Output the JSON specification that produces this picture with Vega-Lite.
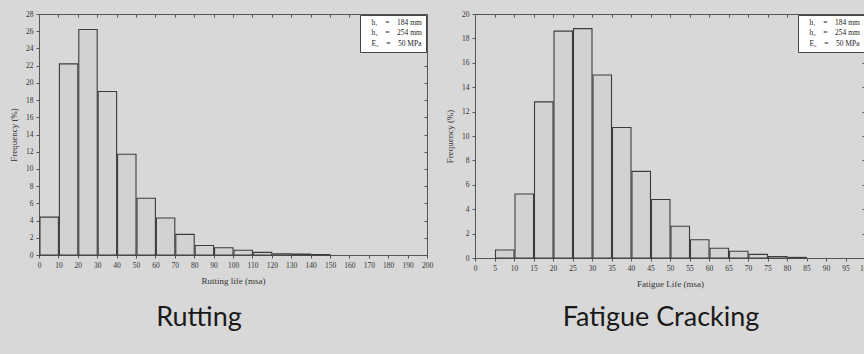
{
  "$schema": "https://vega.github.io/schema/vega-lite/v6.json",
  "background": "#d8d8d8",
  "padding": {"left": 9, "top": 9, "right": 0, "bottom": 27},
  "datasets": {
    "rutting": [
      {"start": 0, "end": 10, "freq": 4.4},
      {"start": 10, "end": 20, "freq": 22.2},
      {"start": 20, "end": 30, "freq": 26.2},
      {"start": 30, "end": 40, "freq": 19.0},
      {"start": 40, "end": 50, "freq": 11.7},
      {"start": 50, "end": 60, "freq": 6.6},
      {"start": 60, "end": 70, "freq": 4.3},
      {"start": 70, "end": 80, "freq": 2.4},
      {"start": 80, "end": 90, "freq": 1.1},
      {"start": 90, "end": 100, "freq": 0.85},
      {"start": 100, "end": 110, "freq": 0.55},
      {"start": 110, "end": 120, "freq": 0.3},
      {"start": 120, "end": 130, "freq": 0.15},
      {"start": 130, "end": 140, "freq": 0.1},
      {"start": 140, "end": 150, "freq": 0.05}
    ],
    "fatigue": [
      {"start": 5, "end": 10, "freq": 0.65},
      {"start": 10, "end": 15, "freq": 5.25},
      {"start": 15, "end": 20, "freq": 12.8},
      {"start": 20, "end": 25, "freq": 18.6},
      {"start": 25, "end": 30, "freq": 18.8},
      {"start": 30, "end": 35, "freq": 15.0},
      {"start": 35, "end": 40, "freq": 10.7},
      {"start": 40, "end": 45, "freq": 7.1},
      {"start": 45, "end": 50, "freq": 4.8},
      {"start": 50, "end": 55, "freq": 2.6},
      {"start": 55, "end": 60, "freq": 1.5},
      {"start": 60, "end": 65, "freq": 0.8},
      {"start": 65, "end": 70, "freq": 0.55},
      {"start": 70, "end": 75, "freq": 0.3},
      {"start": 75, "end": 80, "freq": 0.12},
      {"start": 80, "end": 85, "freq": 0.05}
    ],
    "params": [
      {"param": "h\u2081\u2003=\u2003184 mm"},
      {"param": "h\u2082\u2003=\u2003254 mm"},
      {"param": "E\u2083\u2003=\u200350 MPa"}
    ]
  },
  "hconcat": [
    {
      "width": 388,
      "height": 241,
      "title": {"text": "Rutting", "orient": "bottom", "dx": -34, "offset": 19, "font": "Lato", "fontSize": 27, "fontWeight": "normal", "color": "#1a1a1a"},
      "resolve": {"axis": {"x": "independent", "y": "independent"}},
      "layer": [
        {
          "data": {"name": "rutting"},
          "mark": {"type": "bar", "fill": "#d2d2d2", "stroke": "#3c3c3c", "strokeWidth": 1.1},
          "encoding": {
            "x": {"field": "start", "type": "quantitative", "bin": {"binned": true, "step": 10}, "scale": {"domain": [0, 200], "nice": false},
                  "axis": {"values": [0,10,20,30,40,50,60,70,80,90,100,110,120,130,140,150,160,170,180,190,200], "title": "Rutting life (msa)"}},
            "x2": {"field": "end"},
            "y": {"field": "freq", "type": "quantitative", "scale": {"domain": [0, 28], "nice": false},
                  "axis": {"values": [0,2,4,6,8,10,12,14,16,18,20,22,24,26,28], "title": "Frequency (%)"}}
          }
        },
        {
          "data": {"name": "rutting"},
          "mark": {"type": "bar", "opacity": 0},
          "encoding": {
            "x": {"field": "start", "type": "quantitative", "bin": {"binned": true, "step": 10}, "axis": {"orient": "top", "values": [0,10,20,30,40,50,60,70,80,90,100,110,120,130,140,150,160,170,180,190,200], "labels": false, "title": null, "tickSize": -3}},
            "x2": {"field": "end"},
            "y": {"field": "freq", "type": "quantitative", "axis": {"orient": "right", "values": [0,2,4,6,8,10,12,14,16,18,20,22,24,26,28], "labels": false, "title": null, "tickSize": -3}}
          }
        },
        {
          "data": {"name": "params"},
          "mark": {"type": "point", "opacity": 0},
          "encoding": {
            "color": {"field": "param", "type": "nominal", "sort": null, "scale": {"range": ["#000000", "#000000", "#000000"]},
                      "legend": {"title": null}}
          }
        }
      ]
    },
    {
      "width": 390,
      "height": 244,
      "title": {"text": "Fatigue Cracking", "orient": "bottom", "dx": -9, "offset": 16, "font": "Lato", "fontSize": 27, "fontWeight": "normal", "color": "#1a1a1a"},
      "resolve": {"axis": {"x": "independent", "y": "independent"}},
      "layer": [
        {
          "data": {"name": "fatigue"},
          "mark": {"type": "bar", "fill": "#d2d2d2", "stroke": "#3c3c3c", "strokeWidth": 1.1},
          "encoding": {
            "x": {"field": "start", "type": "quantitative", "bin": {"binned": true, "step": 5}, "scale": {"domain": [0, 100], "nice": false},
                  "axis": {"values": [0,5,10,15,20,25,30,35,40,45,50,55,60,65,70,75,80,85,90,95,100], "title": "Fatigue Life (msa)"}},
            "x2": {"field": "end"},
            "y": {"field": "freq", "type": "quantitative", "scale": {"domain": [0, 20], "nice": false},
                  "axis": {"values": [0,2,4,6,8,10,12,14,16,18,20], "title": "Frequency (%)"}}
          }
        },
        {
          "data": {"name": "fatigue"},
          "mark": {"type": "bar", "opacity": 0},
          "encoding": {
            "x": {"field": "start", "type": "quantitative", "bin": {"binned": true, "step": 5}, "axis": {"orient": "top", "values": [0,5,10,15,20,25,30,35,40,45,50,55,60,65,70,75,80,85,90,95,100], "labels": false, "title": null, "tickSize": -3}},
            "x2": {"field": "end"},
            "y": {"field": "freq", "type": "quantitative", "axis": {"orient": "right", "values": [0,2,4,6,8,10,12,14,16,18,20], "labels": false, "title": null, "tickSize": -3}}
          }
        },
        {
          "data": {"name": "params"},
          "mark": {"type": "point", "opacity": 0},
          "encoding": {
            "color": {"field": "param", "type": "nominal", "sort": null, "scale": {"range": ["#000000", "#000000", "#000000"]},
                      "legend": {"title": null}}
          }
        }
      ]
    }
  ],
  "spacing": 48,
  "bounds": "flush",
  "resolve": {"scale": {"color": "independent"}, "legend": {"color": "independent"}},
  "config": {
    "view": {
      "stroke": "#555555",
      "strokeWidth": 1,
      "fill": {"gradient": "linear", "x1": 0, "y1": 0, "x2": 0, "y2": 1,
               "stops": [{"offset": 0, "color": "#ffffff"}, {"offset": 0.55, "color": "#fcfcfc"}, {"offset": 1, "color": "#e9e9e9"}]}
    },
    "axis": {
      "labelFont": "Liberation Serif", "labelFontSize": 7.5, "labelColor": "#333333",
      "titleFont": "Liberation Serif", "titleFontSize": 9, "titleFontWeight": "normal", "titleColor": "#333333",
      "grid": false, "domain": false, "tickColor": "#555555", "tickSize": 3, "labelPadding": 3,
      "labelOverlap": false, "labelFlush": false
    },
    "axisX": {"titlePadding": 8, "labelAngle": 0},
    "axisY": {"titlePadding": 7},
    "legend": {
      "orient": "top-right", "offset": 1, "padding": 4, "fillColor": "#ffffff", "strokeColor": "#444444",
      "labelFont": "Liberation Serif", "labelFontSize": 7.5, "labelColor": "#222222",
      "symbolSize": 0, "symbolOpacity": 0, "symbolStrokeWidth": 0, "labelOffset": 0, "rowPadding": 1.5
    }
  }
}
